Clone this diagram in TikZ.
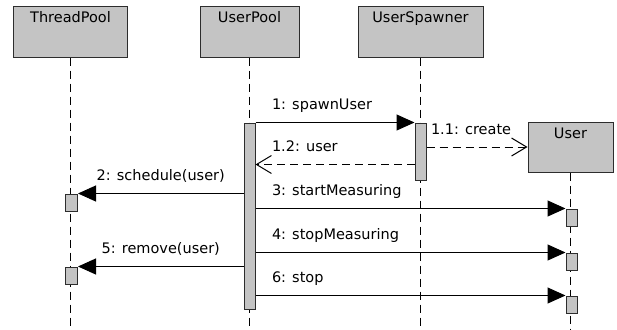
\documentclass[tikz,border=0pt]{standalone}
\usepackage{fontspec}
\setmainfont{DejaVu Sans}
\usetikzlibrary{arrows.meta,positioning}
\definecolor{boxgray}{RGB}{196,196,196}
\definecolor{edgegray}{RGB}{45,45,45}

\begin{document}
\begin{tikzpicture}[x=1pt, y=-1pt, node distance=179pt, font=\fontsize{14.5}{17}\selectfont]
    % Styles
    \tikzstyle{head} = [rectangle, draw=edgegray, line width=1pt, fill=boxgray, inner ysep=5pt, text height=11pt, text depth=29pt, minimum height=50pt]
    \tikzstyle{act} = [rectangle, draw=edgegray, line width=1pt, fill=boxgray, inner sep=0pt, minimum width=11pt]
    \tikzstyle{lifeline} = [line width=0.8pt, dash pattern=on 8pt off 5pt]
    \tikzstyle{call} = [line width=1pt, -{Triangle[length=18pt, width=16pt]}]
    \tikzstyle{ret} = [line width=1pt, dash pattern=on 8pt off 5pt, -{Straight Barb[length=15pt, width=18pt, line width=1pt]}]
    \tikzstyle{lbl} = [anchor=base west, inner sep=0pt, xshift=16pt, yshift=13pt]
    \tikzstyle{lblmid} = [anchor=base, inner sep=0pt, yshift=13pt]

    \useasboundingbox (0,0) rectangle (617,329);
    \coordinate (bottom) at (0,329);
    \coordinate (m12) at (0,164.5);

    % Nodes
    \node [head, minimum width=114pt] (tp) at (70.5,32) {ThreadPool};
    \node [head, minimum width=99pt, right of=tp] (up) {UserPool};
    \node [head, minimum width=125pt, right of=up, node distance=171pt] (us) {UserSpawner};
    \node [head, minimum width=85pt] (user) at (570.5,147) {User};

    % Lifelines
    \draw [lifeline] (tp) -- (tp |- bottom);
    \draw [lifeline] (up) -- (up |- bottom);
    \draw [lifeline] (us) -- (us |- bottom);
    \draw [lifeline] (user) -- (user |- bottom);

    % Activations
    \node [act, minimum height=186pt, below=65pt of up] (upact) {};
    \node [act, minimum height=57pt, below=65pt of us] (usact) {};
    \node [act, minimum width=12pt, minimum height=17pt, below=136pt of tp, xshift=1pt] (ta1) {};
    \node [act, minimum width=12pt, minimum height=17pt, below=55pt of ta1] (ta2) {};
    \node [act, minimum height=17pt, below=36pt of user, xshift=1pt] (ua1) {};
    \node [act, minimum height=17pt, below=26pt of ua1] (ua2) {};
    \node [act, minimum height=17pt, below=25pt of ua2] (ua3) {};

    % Arrows
    \draw [call] (upact.north east) -- node [lbl, at start] {1: spawnUser} (usact.north west);
    \draw [ret] (usact.east |- user.west) -- node [lbl, at start, xshift=-12pt] {1.1: create} (user.west);
    \draw [ret] (usact.west |- m12) -- node [lbl, at end] {1.2: user} (upact.east |- m12);
    \draw [call] (upact.west |- ta1.north) -- node [lblmid] {2: schedule(user)} (ta1.north east);
    \draw [call] (upact.east |- ua1.north) -- node [lbl, at start] {3: startMeasuring} (ua1.north west);
    \draw [call] (upact.east |- ua2.north) -- node [lbl, at start] {4: stopMeasuring} (ua2.north west);
    \draw [call] (upact.west |- ta2.north) -- node [lblmid] {5: remove(user)} (ta2.north east);
    \draw [call] (upact.east |- ua3.north) -- node [lbl, at start] {6: stop} (ua3.north west);
\end{tikzpicture}
\end{document}
